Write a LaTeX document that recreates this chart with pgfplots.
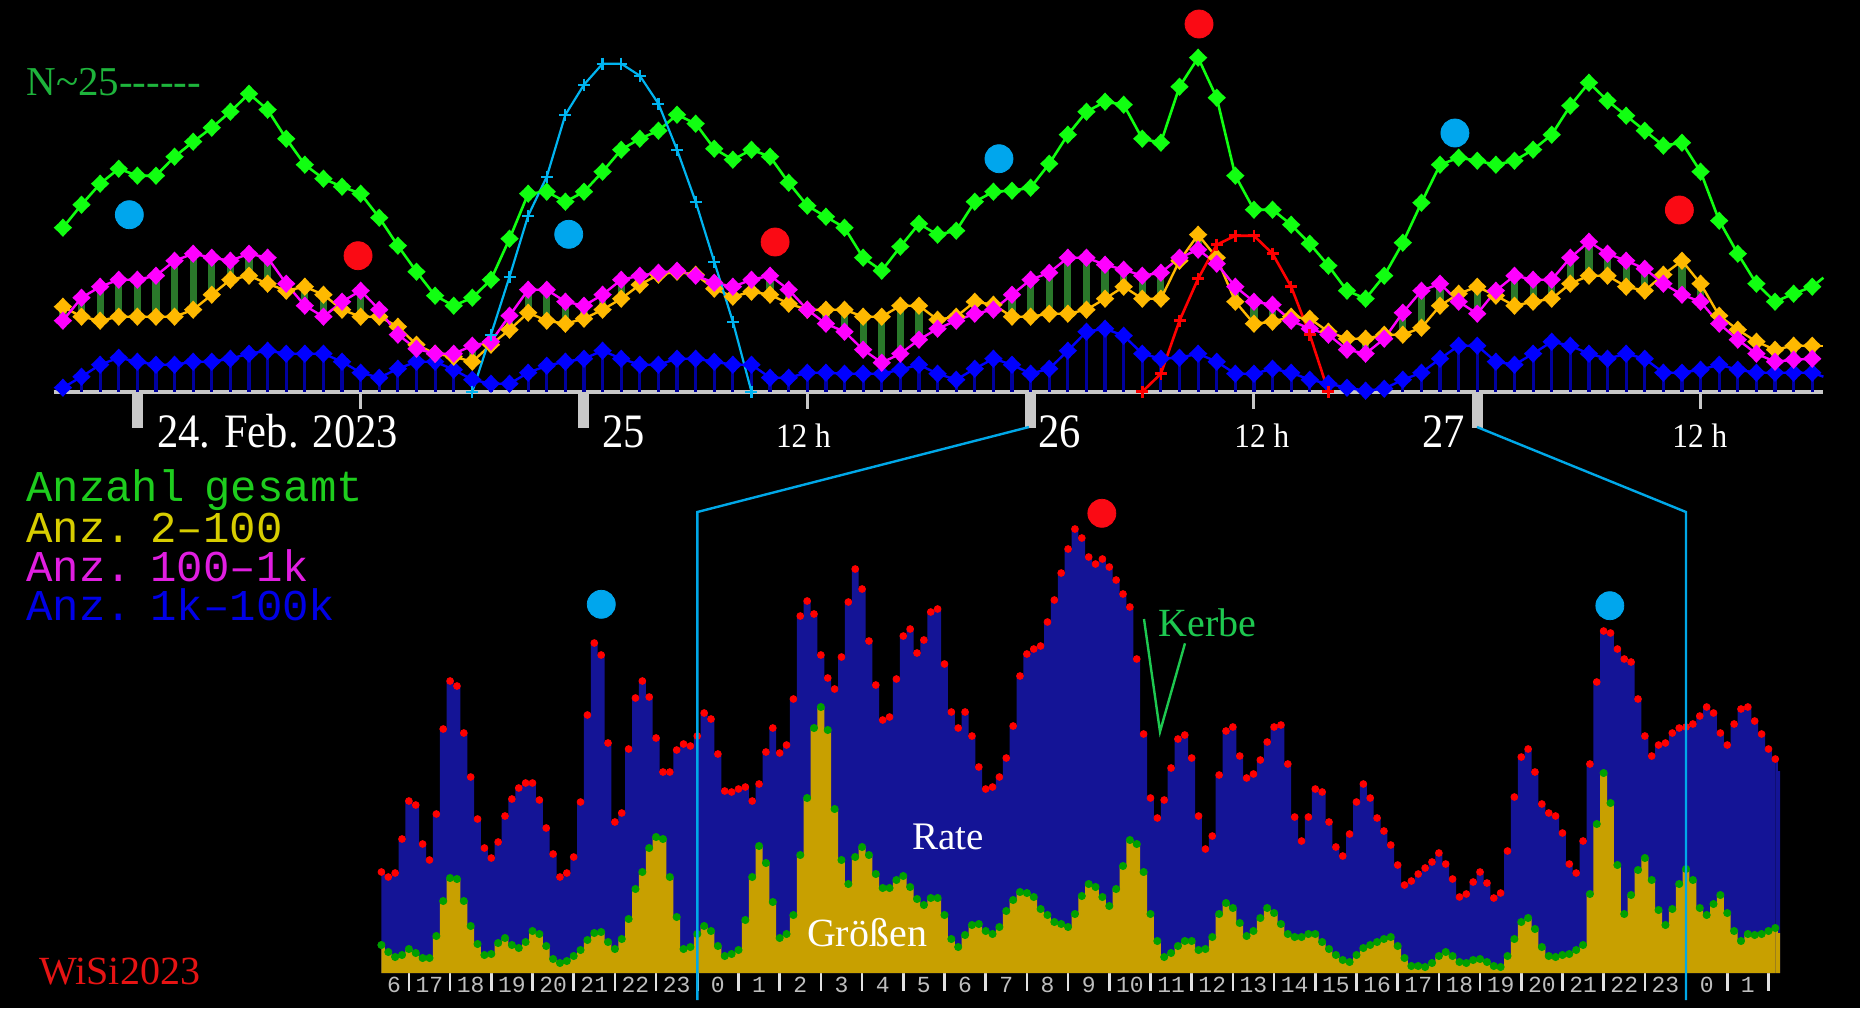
\documentclass[border=0pt]{standalone}
\usepackage{pgfplots}
\pgfplotsset{compat=1.18}
\usepackage{pgfplotstable}
\usepackage{fontspec}
\setmainfont{Liberation Serif}
\newfontfamily\monofont{Liberation Mono}

\definecolor{cGreen}{RGB}{17,255,17}
\definecolor{cYel}{RGB}{255,185,0}
\definecolor{cMag}{RGB}{255,0,255}
\definecolor{cBlue}{RGB}{0,0,255}
\definecolor{cStem}{RGB}{0,0,160}
\definecolor{cBar}{RGB}{42,120,42}
\definecolor{cCyan}{RGB}{0,180,240}
\definecolor{cDotC}{RGB}{0,166,237}
\definecolor{cDotR}{RGB}{250,10,20}
\definecolor{cGray}{RGB}{200,200,200}
\definecolor{cNavy}{RGB}{20,20,150}
\definecolor{cGold}{RGB}{200,160,0}
\definecolor{cGdot}{RGB}{0,160,0}
\definecolor{cLine}{RGB}{0,168,232}
\definecolor{cTick}{RGB}{225,225,225}
\definecolor{cLab}{RGB}{190,190,190}
\definecolor{cNtxt}{RGB}{30,180,60}
\definecolor{cKerbe}{RGB}{30,200,80}
\definecolor{cLgG}{RGB}{30,205,30}
\definecolor{cLgY}{RGB}{215,205,0}
\definecolor{cLgM}{RGB}{225,30,225}
\definecolor{cLgB}{RGB}{0,0,230}
\definecolor{cWiSi}{RGB}{230,20,20}

\pgfdeclareplotmark{star4}{%
  \pgfpathmoveto{\pgfqpoint{0pt}{\pgfplotmarksize}}%
  \pgfpathlineto{\pgfqpoint{0.48\pgfplotmarksize}{0.48\pgfplotmarksize}}%
  \pgfpathlineto{\pgfqpoint{\pgfplotmarksize}{0pt}}%
  \pgfpathlineto{\pgfqpoint{0.48\pgfplotmarksize}{-0.48\pgfplotmarksize}}%
  \pgfpathlineto{\pgfqpoint{0pt}{-\pgfplotmarksize}}%
  \pgfpathlineto{\pgfqpoint{-0.48\pgfplotmarksize}{-0.48\pgfplotmarksize}}%
  \pgfpathlineto{\pgfqpoint{-\pgfplotmarksize}{0pt}}%
  \pgfpathlineto{\pgfqpoint{-0.48\pgfplotmarksize}{0.48\pgfplotmarksize}}%
  \pgfpathclose
  \pgfusepathqfill}

% hourly counts, top panel: h = hours since 24 Feb 00:00
\pgfplotstableread{
h  G    Y    M    B
-4 164  85   71   4
-3 187  75   94   15
-2 208  71   105  27
-1 223  75   112  34
0  216  75   112  30
1  216  75   116  27
2  235  75   131  27
3  250  82   138  30
4  264  97   134  30
5  280  112  131  33
6  298  116  138  38
7  282  108  134  41
8  253  101  108  38
9  227  105  86   38
10 213  97   75   38
11 205  82   90   30
12 198  75   101  19
13 174  75   82   14
14 146  65   57   23
15 120  47   43   30
16 96   38   38   30
17 86   35   38   22
18 94   30   46   12
19 112  47   50   8
20 153  62   76   8
21 198  79   102  19
22 200  71   102  26
23 190  68   90   30
24 200  73   86   33
25 220  82   97   41
26 242  93   112  33
27 253  107  116  27
28 261  117  119  27
29 277  120  121  33
30 268  117  116  33
31 243  103  109  30
32 232  95   105  27
33 242  100  112  27
34 235  97   116  14
35 209  88   102  14
36 186  82   82   19
37 175  82   68   19
38 164  82   60   18
39 134  75   42   18
40 121  75   29   18
41 145  86   38   22
42 168  86   52   27
43 157  72   63   18
44 161  75   71   12
45 190  90   78   23
46 200  87   82   33
47 201  75   97   27
48 204  75   112  18
49 228  78   119  23
50 257  78   134  41
51 280  82   134  60
52 290  93   127  63
53 287  105  122  56
54 253  93   116  38
55 249  93   119  33
56 305  131  134  34
57 334  157  142  38
58 294  134  128  30
59 216  90   105  18
60 182  68   90   18
61 182  70   87   23
62 167  75   71   19
63 148  73   63   12
64 126  60   57   8
65 101  53   42   4
66 93   53   38   1
67 116  57   53   3
68 149  57   79   12
69 189  64   101  19
70 227  86   108  33
71 234  98   90   46
72 231  105  78   46
73 227  96   101  30
74 231  86   116  27
75 242  90   112  38
76 257  93   112  50
77 286  108  134  46
78 309  116  150  38
79 291  116  138  33
80 276  105  131  38
81 261  101  123  33
82 246  117  108  19
83 249  131  97   19
84 220  108  90   22
85 171  76   68   27
86 138  62   52   22
87 108  50   38   19
88 90   42   30   19
89 98   46   32   19
90 105  46   33   19
}\topdata

% 10-minute bins, bottom panel: k = 10-min steps since 26 Feb 00:00
\pgfplotstableread{
k R G
-46 101 28
-45 96 21
-44 100 16
-43 134 18
-42 172 24
-41 168 20
-40 129 15
-39 113 15
-38 159 37
-37 244 72
-36 292 95
-35 287 94
-34 240 72
-33 196 47
-32 154 29
-31 125 18
-30 115 19
-29 131 30
-28 157 35
-27 174 28
-26 185 25
-25 190 31
-24 190 42
-23 173 39
-22 145 27
-21 119 14
-20 96 10
-19 100 12
-18 116 17
-17 171 23
-16 258 33
-15 330 40
-14 318 41
-13 230 31
-12 151 24
-11 160 34
-10 224 54
-9 275 84
-8 292 101
-7 276 125
-6 235 136
-5 201 134
-4 201 96
-3 223 56
-2 229 24
-1 227 26
0 237 39
1 260 47
2 254 42
3 219 27
4 182 17
5 181 19
6 184 23
7 186 53
8 172 96
9 189 127
10 221 110
11 245 71
12 220 35
13 228 39
14 274 58
15 357 118
16 372 175
17 359 245
18 318 266
19 295 243
20 284 164
21 316 113
22 371 89
23 404 116
24 384 126
25 332 118
26 288 99
27 253 85
28 256 85
29 294 93
30 337 97
31 344 86
32 320 74
33 333 68
34 361 75
35 364 75
36 309 58
37 261 34
38 245 26
39 261 38
40 237 48
41 206 49
42 184 42
43 186 39
44 196 46
45 215 62
46 247 73
47 297 81
48 319 80
49 324 76
50 327 64
51 351 58
52 373 51
53 400 49
54 424 46
55 444 59
56 435 77
57 416 89
58 409 86
59 414 76
60 406 67
61 393 84
62 379 107
63 366 133
64 314 129
65 239 101
66 175 59
67 155 32
68 173 16
69 205 20
70 234 27
71 238 32
72 215 32
73 157 23
74 124 24
75 137 36
76 198 59
77 242 70
78 246 65
79 217 50
80 195 37
81 199 42
82 213 55
83 231 65
84 246 60
85 248 49
86 209 39
87 156 36
88 132 36
89 156 39
90 184 39
91 181 31
92 151 24
93 126 18
94 117 13
95 139 11
96 171 18
97 189 25
98 175 28
99 155 31
100 142 34
101 128 36
102 108 27
103 88 15
104 92 7
105 99 7
106 105 6
107 111 10
108 120 17
109 109 21
110 94 17
111 76 11
112 79 10
113 91 13
114 101 14
115 90 11
116 75 7
117 80 6
118 122 17
119 176 34
120 216 51
121 224 55
122 201 44
123 169 26
124 160 17
125 157 16
126 140 18
127 109 19
128 100 23
129 132 28
130 209 79
131 291 149
132 342 200
133 340 170
134 324 108
135 314 59
136 311 78
137 274 103
138 237 115
139 217 93
140 228 63
141 230 48
142 240 64
143 245 89
144 246 104
145 249 93
146 257 65
147 266 58
148 260 69
149 240 78
150 228 60
151 249 42
152 264 32
153 266 39
154 252 38
155 239 39
156 224 42
157 214 45
}\botdata

\begin{document}
\begin{tikzpicture}
\fill[black] (0pt,0pt) rectangle (930pt,-504pt);

% ---------------- top panel ----------------
\begin{axis}[
  at={(26.8pt,-220.85pt)}, anchor=south west,
  scale only axis, width=884.9pt, height=221pt,
  xmin=-4.5, xmax=90.6, ymin=-50, ymax=392,
  axis lines=none, clip=false,
]
\draw[cGray, line width=2pt] (axis cs:-4.5,0) -- (axis cs:90.6,0);
\draw[cGray, line width=5.5pt] (axis cs:0,0) -- ++(0pt,-18pt);
\draw[cGray, line width=5.5pt] (axis cs:24,0) -- ++(0pt,-18pt);
\draw[cGray, line width=5.5pt] (axis cs:48,0) -- ++(0pt,-18pt);
\draw[cGray, line width=5.5pt] (axis cs:72,0) -- ++(0pt,-18pt);
\draw[cGray, line width=1.5pt] (axis cs:12,0) -- ++(0pt,-8.5pt);
\draw[cGray, line width=1.5pt] (axis cs:36,0) -- ++(0pt,-8.5pt);
\draw[cGray, line width=1.5pt] (axis cs:60,0) -- ++(0pt,-8.5pt);
\draw[cGray, line width=1.5pt] (axis cs:84,0) -- ++(0pt,-8.5pt);

\addplot[ycomb, cStem, line width=1.6pt] table[x=h,y=B] {\topdata};
\addplot[cBlue, line width=1.2pt, mark=star4, mark size=4.6pt] table[x=h,y=B] {\topdata};
\addplot[cBlue, line width=1.2pt] coordinates {(90,19) (90.6,15)};

% dark green bars spanning from the lower to the upper of the two middle series
\addplot[only marks, mark=none,
  error bars/.cd, y dir=plus, y explicit, error mark=none,
  error bar style={cBar, line width=3.6pt, line cap=butt, solid}]
  table[x=h, y expr={min(\thisrow{M},\thisrow{Y})}, y error plus expr={abs(\thisrow{M}-\thisrow{Y})}] {\topdata};
\addplot[cYel, line width=1.2pt, mark=star4, mark size=4.6pt] table[x=h,y=Y] {\topdata};
\addplot[cYel, line width=1.2pt] coordinates {(90,46) (90.6,46)};
\addplot[cMag, line width=1.2pt, mark=star4, mark size=4.6pt] table[x=h,y=M] {\topdata};
\addplot[cGreen, line width=1.3pt, mark=star4, mark size=4.6pt] table[x=h,y=G] {\topdata};
\addplot[cGreen, line width=1.3pt] coordinates {(90,105) (90.6,114)};

\addplot[cCyan, line width=1.1pt, mark=+, mark size=3pt] coordinates {
(18,0) (19,57) (20,115) (21,176) (22,215) (23,277) (24,307) (25,328) (26,328)
(27,316) (28,288) (29,242) (30,190) (31,130) (32,70) (33,0)};
\addplot[red, line width=1.3pt, mark=+, mark size=3pt] coordinates {
(54,0) (55,18) (56,71) (57,113) (58,147) (59,156) (60,156) (61,138) (62,105) (63,57) (64,0)};

\addplot[only marks, mark=*, mark size=7pt, cDotC] coordinates {
(-0.43,177) (23.18,157.4) (46.3,233) (70.8,258.7)};
\addplot[only marks, mark=*, mark size=7pt, cDotR] coordinates {
(11.86,136) (34.27,149.7) (57.05,367.7) (82.86,181.7)};
\end{axis}

% ---------------- bottom panel ----------------
\begin{axis}[
  at={(190.7pt,-486.5pt)}, anchor=south west,
  scale only axis, width=699.3pt, height=235pt,
  xmin=-7.667, xmax=26.28, ymin=0, ymax=470,
  axis x line*=bottom, axis y line=none, clip=false,
  x axis line style={draw=none},
  xtick={-6.5,-5.5,...,25.5},
  xticklabels={17,18,19,20,21,22,23,0,1,2,3,4,5,6,7,8,9,10,11,12,13,14,15,16,17,18,19,20,21,22,23,0,1},
  extra x ticks={-7.36}, extra x tick labels={6},
  minor xtick={-7,-6,...,26},
  tick align=outside,
  major tick length=0pt, minor tick length=8.8pt,
  major tick style={draw=none},
  extra x tick style={major tick length=0pt, tick style={draw=none}},
  minor tick style={draw=cTick, line width=1.3pt},
  xticklabel style={font=\monofont\fontsize{11.5}{11.5}\selectfont, text=cLab, anchor=center, yshift=-6pt, inner sep=0pt},
  ytick=\empty,
]
\addplot[fill=cNavy, draw=none, const plot mark mid] table[x expr=\thisrow{k}/6, y=R] {\botdata} \closedcycle;
\addplot[fill=cNavy, draw=none, const plot mark mid] coordinates {(26.17,214) (26.28,202)} \closedcycle;
\addplot[fill=cGold, draw=none, const plot mark mid] table[x expr=\thisrow{k}/6, y=G] {\botdata} \closedcycle;
\addplot[fill=cGold, draw=none, const plot mark mid] coordinates {(26.17,45) (26.28,40)} \closedcycle;
\addplot[only marks, mark=*, mark size=1.7pt, red] table[x expr=\thisrow{k}/6, y=R] {\botdata};
\addplot[only marks, mark=*, mark size=1.8pt, cGdot] table[x expr=\thisrow{k}/6, y=G] {\botdata};

\addplot[only marks, mark=*, mark size=7pt, cDotC] coordinates {(-2.33,368.7) (22.15,367.3)};
\addplot[only marks, mark=*, mark size=7pt, cDotR] coordinates {(9.82,459.7)};
\end{axis}

% ---------------- overlay: texts and zoom lines (pixel grid) ----------------
\begin{axis}[
  at={(0pt,0pt)}, anchor=north west,
  scale only axis, width=930pt, height=504pt,
  xmin=0, xmax=1860, ymin=0, ymax=1008, y dir=reverse,
  axis lines=none, clip=false,
]
\draw[cLine, line width=1.2pt] (axis cs:697.3,1000) -- (axis cs:697.3,512) -- (axis cs:1029,427);
\draw[cLine, line width=1.2pt] (axis cs:1686,1000) -- (axis cs:1686,512) -- (axis cs:1477,427);

\node[anchor=base west, inner sep=0pt, text=white, font=\fontsize{24}{24}\selectfont] at (axis cs:156.6,447) {\scalebox{0.886}[1]{24. Feb. 2023}};
\node[anchor=base west, inner sep=0pt, text=white, font=\fontsize{24}{24}\selectfont] at (axis cs:601.7,447) {\scalebox{0.886}[1]{25}};
\node[anchor=base west, inner sep=0pt, text=white, font=\fontsize{24}{24}\selectfont] at (axis cs:1038,447) {\scalebox{0.886}[1]{26}};
\node[anchor=base west, inner sep=0pt, text=white, font=\fontsize{24}{24}\selectfont] at (axis cs:1421.7,447) {\scalebox{0.886}[1]{27}};
\node[anchor=base west, inner sep=0pt, text=white, font=\fontsize{17}{17}\selectfont] at (axis cs:775.7,447) {\scalebox{0.92}[1]{12 h}};
\node[anchor=base west, inner sep=0pt, text=white, font=\fontsize{17}{17}\selectfont] at (axis cs:1234,447) {\scalebox{0.92}[1]{12 h}};
\node[anchor=base west, inner sep=0pt, text=white, font=\fontsize{17}{17}\selectfont] at (axis cs:1672,447) {\scalebox{0.92}[1]{12 h}};

\node[anchor=base west, inner sep=0pt, text=cNtxt, font=\fontsize{20.5}{20.5}\selectfont] at (axis cs:26,95) {N\char"7E 25-{}-{}-{}-{}-{}-};

\node[anchor=base west, inner sep=0pt, text=cLgG, font=\monofont\fontsize{22}{22}\selectfont] at (axis cs:26,501.7) {Anzahl\hspace{0.45em}gesamt};
\node[anchor=base west, inner sep=0pt, text=cLgY, font=\monofont\fontsize{22}{22}\selectfont] at (axis cs:26,542.3) {Anz.\hspace{0.42em}2\textendash 100};
\node[anchor=base west, inner sep=0pt, text=cLgM, font=\monofont\fontsize{22}{22}\selectfont] at (axis cs:26,581) {Anz.\hspace{0.42em}100\textendash 1k};
\node[anchor=base west, inner sep=0pt, text=cLgB, font=\monofont\fontsize{22}{22}\selectfont] at (axis cs:26,620) {Anz.\hspace{0.42em}1k\textendash 100k};

\node[anchor=base west, inner sep=0pt, text=cWiSi, font=\fontsize{20}{20}\selectfont] at (axis cs:39,984.5) {WiSi2023};

\node[anchor=base west, inner sep=0pt, text=white, font=\fontsize{19.5}{19.5}\selectfont] at (axis cs:911.7,849) {Rate};
\node[anchor=base west, inner sep=0pt, text=white, font=\fontsize{20}{20}\selectfont] at (axis cs:806.7,946.7) {Größen};
\node[anchor=base west, inner sep=0pt, text=cKerbe, font=\fontsize{20}{20}\selectfont] at (axis cs:1158.3,636) {Kerbe};
\draw[cKerbe, line width=1.2pt] (axis cs:1144,619) -- (axis cs:1160,731.7) -- (axis cs:1185,643.3);
\end{axis}

\pgfresetboundingbox
\path (0pt,0pt) rectangle (930pt,-504pt);
\end{tikzpicture}
\end{document}
